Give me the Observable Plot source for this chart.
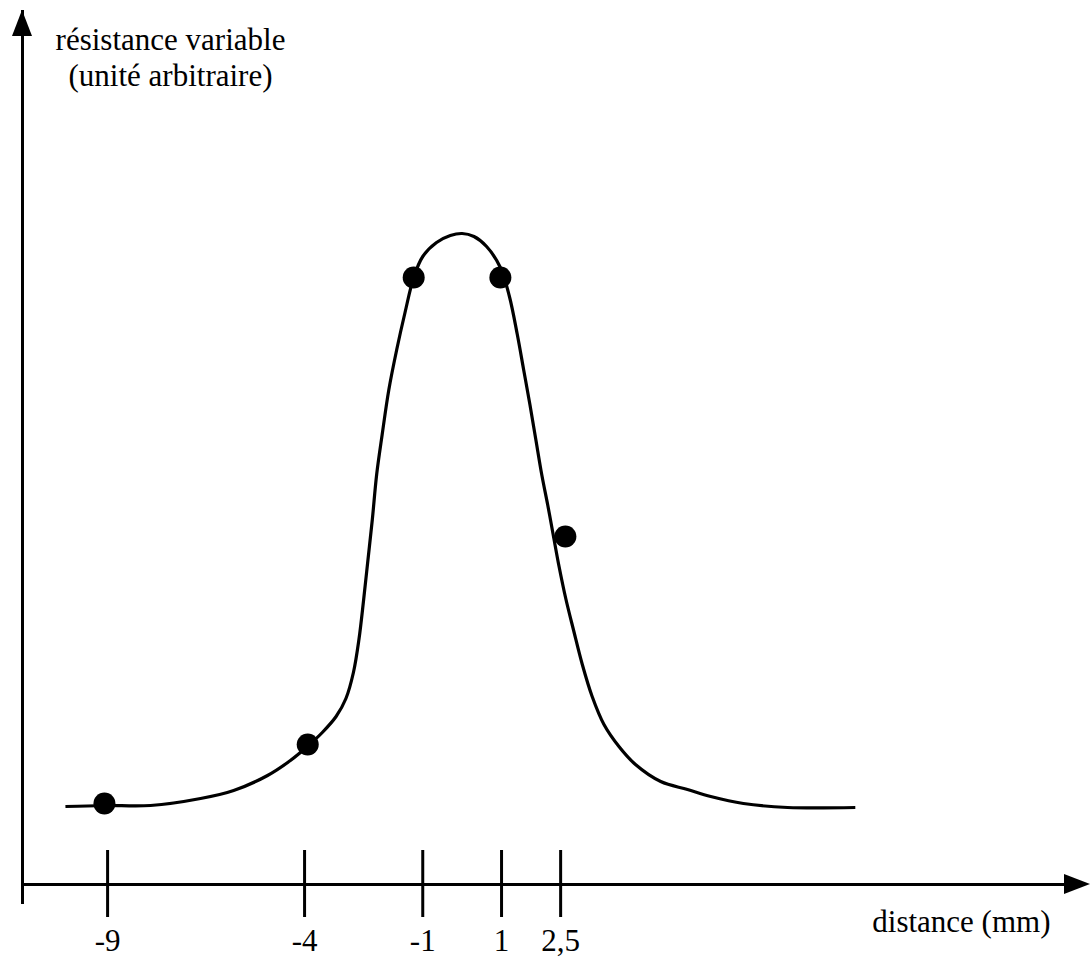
<!DOCTYPE html>
<html>
<head>
<meta charset="utf-8">
<script src="https://cdn.jsdelivr.net/npm/d3@7"></script>
<script src="https://cdn.jsdelivr.net/npm/@observablehq/plot@0.6"></script>
<style>
  html, body { margin: 0; padding: 0; background: #fff; }
  #chart svg { display: block; }
</style>
</head>
<body>
<div id="chart"></div>
<script>
// ---- data ----
const curveX = [-10.07, -9.08, -7.91, -6.64, -5.80, -4.94, -4.36, -3.90, -3.55, -3.20, -2.95, -2.76, -2.62, -2.50, -2.39, -2.28, -2.17, -2.03, -1.86, -1.66, -1.45, -1.23, -1.00, -0.65, -0.30, 0.00, 0.30, 0.62, 0.97, 1.20, 1.40, 1.56, 1.72, 1.87, 2.02, 2.17, 2.31, 2.46, 2.63, 2.83, 3.05, 3.30, 3.60, 3.98, 4.40, 5.04, 5.72, 6.31, 7.14, 8.26, 9.98];
const curveY = [0.78, 0.79, 0.79, 0.86, 0.94, 1.09, 1.24, 1.39, 1.52, 1.68, 1.86, 2.12, 2.45, 2.85, 3.25, 3.65, 4.10, 4.50, 4.95, 5.35, 5.72, 6.07, 6.28, 6.42, 6.49, 6.51, 6.48, 6.38, 6.17, 5.88, 5.50, 5.15, 4.80, 4.45, 4.10, 3.80, 3.50, 3.18, 2.86, 2.54, 2.20, 1.88, 1.60, 1.38, 1.20, 1.03, 0.95, 0.88, 0.81, 0.77, 0.77];

const pointX = [-9.08, -3.92, -1.23, 0.97, 2.62];
const pointY = [0.81, 1.40, 6.07, 6.07, 3.48];

const tickValues = [-9, -4, -1, 1, 2.5];
const tickLabels = ["-9", "-4", "-1", "1", "2,5"];

const yAxisLabel = "résistance variable\n(unité arbitraire)";
const xAxisLabel = "distance (mm)";

const xDomain = [-11.16, 15.95];
const yDomain = [0, 8.74];

// ---- tables built from the arrays ----
const curve = curveX.map((x, i) => ({x, y: curveY[i]}));
const points = pointX.map((x, i) => ({x, y: pointY[i]}));

const FONT = "'Liberation Serif', 'Times New Roman', serif";
const FS = 31;

// filled arrow heads at the ends of both axes, placed through the scales
const arrowHeads = (index, scales, values, dims) => {
  const x0 = scales.x(xDomain[0]);
  const y0 = scales.y(yDomain[0]);
  const yTop = scales.y(yDomain[1]);
  const xEnd = scales.x(xDomain[1]);
  const g = d3.create("svg:g").attr("fill", "black").attr("stroke", "none");
  g.append("path").attr("d", `M${x0},${yTop}L${x0 - 10},${yTop + 26}L${x0 + 10},${yTop + 26}Z`);
  g.append("path").attr("d", `M${xEnd},${y0}L${xEnd - 26},${y0 - 10}L${xEnd - 26},${y0 + 10}Z`);
  return g.node();
};

const chart = Plot.plot({
  width: 1090,
  height: 961,
  marginLeft: 22,
  marginRight: 0,
  marginTop: 10,
  marginBottom: 77,
  style: {fontFamily: FONT, fontSize: FS + "px", background: "white", color: "black"},
  x: {domain: xDomain, axis: null},
  y: {domain: yDomain, axis: null},
  marks: [
    // axis lines
    Plot.ruleY([yDomain[0]], {x1: xDomain[0], x2: xDomain[1], stroke: "black", strokeWidth: 3, insetRight: 20}),
    Plot.ruleX([xDomain[0]], {y1: yDomain[0], y2: yDomain[1], stroke: "black", strokeWidth: 3, insetTop: 20}),
    arrowHeads,
    // tick marks crossing the x axis
    Plot.ruleX(tickValues, {y1: 0, y2: 0, insetTop: -34, insetBottom: -33, stroke: "black", strokeWidth: 3}),
    // tick labels
    Plot.axisX(tickValues, {
      tickSize: 0,
      tickPadding: 44,
      tickFormat: (d) => tickLabels[tickValues.indexOf(d)],
      fontSize: FS,
      fontFamily: FONT,
      label: null,
      fill: "black"
    }),
    // curve and measured points
    Plot.line(curve, {x: "x", y: "y", curve: "catmull-rom", stroke: "black", strokeWidth: 3.2, strokeLinejoin: "round", strokeLinecap: "butt"}),
    Plot.dot(points, {x: "x", y: "y", r: 11, fill: "black", stroke: "none"}),
    // axis titles
    Plot.text([yAxisLabel], {
      frameAnchor: "top-left", dx: 148, dy: 14,
      textAnchor: "middle", lineAnchor: "top", lineHeight: 1.16,
      fontSize: FS, fontFamily: FONT, fill: "black"
    }),
    Plot.text([xAxisLabel], {
      frameAnchor: "bottom-right", dx: -40, dy: 38,
      textAnchor: "end", lineAnchor: "middle",
      fontSize: FS, fontFamily: FONT, fill: "black"
    })
  ]
});

document.getElementById("chart").appendChild(chart);
</script>
</body>
</html>
